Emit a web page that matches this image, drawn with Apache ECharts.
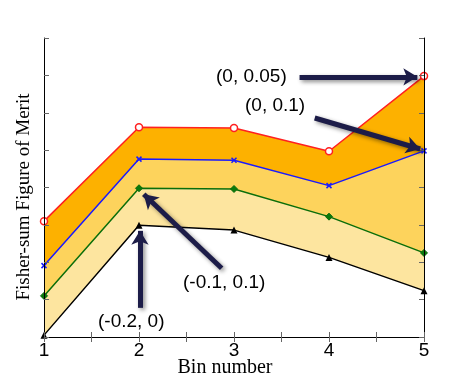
<!DOCTYPE html>
<html>
<head>
<meta charset="utf-8">
<script src="https://cdn.jsdelivr.net/npm/echarts@6/dist/echarts.min.js"></script>
<style>
  html, body { margin: 0; padding: 0; background: #fff; }
  #chart { width: 463px; height: 381px; }
</style>
</head>
<body>
<div id="chart"></div>
<script>
// bins along x
const bins = [1, 2, 3, 4, 5];
// figure of merit per curve (arbitrary units)
const fomBlack = [0.05, 2.99, 2.86, 2.13, 1.24];  // (-0.2, 0)
const fomGreen = [1.10, 3.98, 3.96, 3.22, 2.25];  // (-0.1, 0.1)
const fomBlue = [1.91, 4.76, 4.73, 4.05, 4.98];   // (0, 0.1)
const fomRed = [3.10, 5.61, 5.59, 4.97, 6.98];    // (0, 0.05)
// arrows: [tailX, tailY, tipX, tipY] in data units
const arrows = [
  [3.69, 6.95, 4.93, 6.96],
  [3.85, 5.86, 4.96, 5.03],
  [2.87, 1.84, 2.05, 3.82],
  [2.01, 0.78, 2.01, 2.84]
];

function pts (vals) {
  return bins.map((b, i) => [b, vals[i]]);
}

const chart = echarts.init(document.getElementById('chart'));

const axisGray = '#666';
const arrowLine = {
  color: '#1c1c48',
  width: 5,
  type: 'solid',
  shadowColor: 'rgba(0,0,0,0.45)',
  shadowBlur: 4,
  shadowOffsetX: 2,
  shadowOffsetY: 2
};

const option = {
  animation: false,
  grid: { left: 44, right: 39, top: 38, bottom: 44, outerBoundsMode: 'none' },
  xAxis: [
    {
      type: 'value',
      min: 1,
      max: 5,
      interval: 0.5,
      z: 10,
      name: 'Bin number',
      nameLocation: 'middle',
      nameGap: 21,
      nameMoveOverlap: false,
      nameTextStyle: { fontFamily: 'Liberation Serif', fontSize: 20, color: '#000', padding: [0, 18, 0, 0] },
      axisLine: { lineStyle: { color: axisGray } },
      axisTick: { inside: true, length: 5, lineStyle: { color: axisGray } },
      axisLabel: {
        margin: 4,
        fontFamily: 'Liberation Sans',
        fontSize: 19,
        color: '#000',
        formatter: v => (Number.isInteger(v) ? String(v) : '')
      },
      splitLine: { show: false }
    },
    {
      type: 'value',
      position: 'top',
      min: 1,
      max: 5,
      interval: 0.5,
      z: 10,
      axisLine: { show: true, lineStyle: { color: '#000' } },
      axisTick: { inside: true, length: 5, lineStyle: { color: axisGray } },
      axisLabel: { show: false },
      splitLine: { show: false }
    }
  ],
  yAxis: [
    {
      type: 'value',
      min: 0,
      max: 8,
      interval: 1,
      z: 10,
      axisLine: { show: true, lineStyle: { color: '#000' } },
      axisTick: { show: true, inside: true, length: 5, lineStyle: { color: axisGray } },
      axisLabel: { show: false },
      splitLine: { show: false }
    },
    {
      type: 'value',
      position: 'right',
      min: 0,
      max: 8,
      interval: 1,
      z: 10,
      axisLine: { show: true, lineStyle: { color: '#000' } },
      axisTick: { show: true, inside: true, length: 5, lineStyle: { color: axisGray } },
      axisLabel: { show: false },
      splitLine: { show: false }
    }
  ],
  series: [
    {
      name: '(0, 0.05)',
      type: 'line',
      data: pts(fomRed),
      symbol: 'circle',
      symbolSize: 7,
      itemStyle: { color: '#fff', borderColor: '#ff2020', borderWidth: 1.5 },
      lineStyle: { color: '#ff2020', width: 1.5 },
      areaStyle: { color: '#fdb100', opacity: 1 },
      z: 2
    },
    {
      name: '(0, 0.1)',
      type: 'line',
      data: pts(fomBlue),
      symbol: 'path://M0,0L10,10M10,0L0,10',
      symbolSize: 5,
      itemStyle: { color: '#1a1aff', borderColor: '#1a1aff', borderWidth: 1.5 },
      lineStyle: { color: '#1a1aff', width: 1.5 },
      areaStyle: { color: '#fdd35c', opacity: 1 },
      z: 3
    },
    {
      name: '(-0.1, 0.1)',
      type: 'line',
      data: pts(fomGreen),
      symbol: 'diamond',
      symbolSize: 7,
      itemStyle: { color: '#0a7a0a', borderColor: '#0a6a0a', borderWidth: 1 },
      lineStyle: { color: '#0a6e0a', width: 1.5 },
      areaStyle: { color: '#fde59f', opacity: 1 },
      z: 4
    },
    {
      name: '(-0.2, 0)',
      type: 'line',
      data: pts(fomBlack),
      symbol: 'triangle',
      symbolSize: 7,
      itemStyle: { color: '#000' },
      lineStyle: { color: '#000', width: 1.5 },
      areaStyle: { color: '#fff', opacity: 1 },
      z: 5
    },
    {
      name: 'arrows',
      type: 'line',
      data: [],
      z: 20,
      markLine: {
        silent: true,
        z: 20,
        symbol: ['none', 'arrow'],
        symbolSize: [13, 14],
        label: { show: false },
        lineStyle: arrowLine,
        itemStyle: { color: '#1c1c48' },
        data: arrows.map(a => [{ coord: [a[0], a[1]] }, { coord: [a[2], a[3]] }])
      }
    }
  ],
  graphic: [
    { type: 'text', x: 24, y: 197, rotation: Math.PI / 2, z: 100,
      style: { text: 'Fisher-sum Figure of Merit', font: '19px "Liberation Serif"', fill: '#000', align: 'center', verticalAlign: 'middle' } },
    { type: 'text', left: 216, top: 67, z: 100, style: { text: '(0, 0.05)', font: '19px "Liberation Sans"', fill: '#000' } },
    { type: 'text', left: 245, top: 96, z: 100, style: { text: '(0, 0.1)', font: '19px "Liberation Sans"', fill: '#000' } },
    { type: 'text', left: 183, top: 273, z: 100, style: { text: '(-0.1, 0.1)', font: '19px "Liberation Sans"', fill: '#000' } },
    { type: 'text', left: 98, top: 312, z: 100, style: { text: '(-0.2, 0)', font: '19px "Liberation Sans"', fill: '#000' } }
  ]
};

chart.setOption(option);
</script>
</body>
</html>
